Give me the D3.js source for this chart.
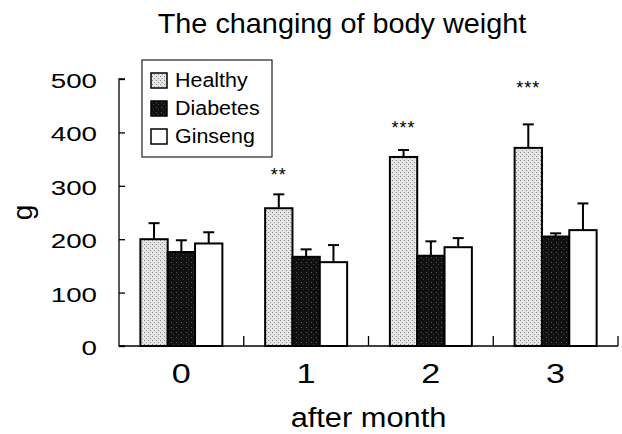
<!DOCTYPE html>
<html>
<head>
<meta charset="utf-8">
<script src="https://cdn.jsdelivr.net/npm/d3@7"></script>
<style>
  html, body { margin: 0; padding: 0; background: #fff; }
  svg { display: block; }
  text { font-family: "Liberation Sans", Arial, sans-serif; fill: #000; }
</style>
</head>
<body>
<svg id="chart" width="622" height="434"></svg>
<script>
// ---- data ----
const categories = ["0", "1", "2", "3"];
const seriesNames = ["Healthy", "Diabetes", "Ginseng"];
const healthyMean = [200, 258, 354, 371];
const healthySD   = [30, 26, 13, 44];
const diabetesMean = [176, 167, 169, 205];
const diabetesSD   = [22, 14, 27, 6];
const ginsengMean = [192, 157, 185, 217];
const ginsengSD   = [21, 32, 17, 50];
const yTicks = [0, 100, 200, 300, 400, 500];
const sigLabels = ["", "**", "***", "***"];
const sigLevel = [0, 324, 412, 487];   // height (g) where the significance marks sit
const titleText = "The changing of body weight";
const xTitle = "after month";
const yTitle = "g";

const means = [healthyMean, diabetesMean, ginsengMean];
const sds = [healthySD, diabetesSD, ginsengSD];

// ---- layout ----
const svg = d3.select("#chart");
const plotL = 119, plotR = 618, plotT = 79, plotB = 346;

const defs = svg.append("defs");
// light gray stipple for Healthy
const p1 = defs.append("pattern").attr("id", "patH").attr("patternUnits", "userSpaceOnUse")
  .attr("width", 4).attr("height", 4);
p1.append("rect").attr("width", 4).attr("height", 4).attr("fill", "#e2e2e2");
p1.append("rect").attr("x", 0).attr("y", 0).attr("width", 1).attr("height", 1).attr("fill", "#8a8a8a");
p1.append("rect").attr("x", 2).attr("y", 2).attr("width", 1).attr("height", 1).attr("fill", "#a0a0a0");
p1.append("rect").attr("x", 3).attr("y", 1).attr("width", 1).attr("height", 1).attr("fill", "#f4f4f4");
// dark stipple for Diabetes
const p2 = defs.append("pattern").attr("id", "patD").attr("patternUnits", "userSpaceOnUse")
  .attr("width", 5).attr("height", 5);
p2.append("rect").attr("width", 5).attr("height", 5).attr("fill", "#111");
p2.append("rect").attr("x", 1).attr("y", 2).attr("width", 1).attr("height", 1).attr("fill", "#555");
p2.append("rect").attr("x", 3).attr("y", 4).attr("width", 1).attr("height", 1).attr("fill", "#3a3a3a");
const fills = ["url(#patH)", "url(#patD)", "#fff"];

const y = d3.scaleLinear().domain([0, 500]).range([plotB, plotT]);
const x0 = d3.scaleBand().domain(categories).range([plotL, plotR]).paddingInner(0).paddingOuter(0);
const groupW = 82;
const x1 = d3.scaleBand().domain(seriesNames)
  .range([(x0.bandwidth() - groupW) / 2, (x0.bandwidth() + groupW) / 2]);

// helper: horizontally stretched text
function stretchedText(g, x, yPos, str, size, sx, anchor) {
  const t = g.append("g").attr("transform", `translate(${x},${yPos}) scale(${sx},1)`)
    .append("text").attr("font-size", size).attr("text-anchor", anchor || "middle").text(str);
  return t;
}

// ---- title ----
stretchedText(svg, 342, 33, titleText, 28, 1.03, "middle");

// ---- bars ----
const data = [];
categories.forEach((c, ci) => {
  seriesNames.forEach((s, si) => {
    data.push({ c, s, si, v: means[si][ci], sd: sds[si][ci] });
  });
});

const bars = svg.append("g");
bars.selectAll("rect").data(data).join("rect")
  .attr("x", d => x0(d.c) + x1(d.s))
  .attr("y", d => y(d.v))
  .attr("width", x1.bandwidth())
  .attr("height", d => y(0) - y(d.v))
  .attr("fill", d => fills[d.si])
  .attr("stroke", "#000").attr("stroke-width", 2);

// error bars
const err = svg.append("g").attr("stroke", "#000").attr("stroke-width", 2);
data.forEach(d => {
  const cx = x0(d.c) + x1(d.s) + x1.bandwidth() / 2;
  err.append("line").attr("x1", cx).attr("x2", cx).attr("y1", y(d.v)).attr("y2", y(d.v + d.sd));
  err.append("line").attr("x1", cx - 5.5).attr("x2", cx + 5.5).attr("y1", y(d.v + d.sd)).attr("y2", y(d.v + d.sd));
});

// significance marks
categories.forEach((c, ci) => {
  if (!sigLabels[ci]) return;
  const cx = x0(c) + x1(seriesNames[0]) + x1.bandwidth() / 2;
  svg.append("text").attr("x", cx).attr("y", y(sigLevel[ci]) + 8)
    .attr("text-anchor", "middle").attr("font-size", 18).attr("letter-spacing", 1)
    .text(sigLabels[ci]);
});

// ---- axes ----
const yAxis = d3.axisRight(y).tickValues(yTicks).tickSize(6).tickFormat("");
const yg = svg.append("g").attr("transform", `translate(${plotL},0)`).call(yAxis);
yg.select(".domain").attr("d", `M6,${plotT}H0V${plotB}H6`).attr("stroke-width", 1.3);
yg.selectAll(".tick line").attr("stroke-width", 1.3);

yTicks.forEach(t => {
  stretchedText(svg, 97, y(t) + 9, String(t), 21, 1.32, "end");
});

// x axis: baseline with category separator ticks pointing up
const xg = svg.append("g");
xg.append("line").attr("x1", plotL).attr("x2", plotR).attr("y1", plotB).attr("y2", plotB)
  .attr("stroke", "#000").attr("stroke-width", 1.3);
const boundaries = categories.slice(1).map(c => x0(c)).concat([x0(categories[categories.length - 1]) + x0.bandwidth()]);
xg.selectAll("line.sep").data(boundaries).join("line").attr("class", "sep")
  .attr("x1", d => d).attr("x2", d => d).attr("y1", plotB).attr("y2", plotB - 10)
  .attr("stroke", "#000").attr("stroke-width", 1.3);

categories.forEach(c => {
  stretchedText(svg, x0(c) + x0.bandwidth() / 2, 383, c, 28, 1.22, "middle");
});

// axis titles
stretchedText(svg, (plotL + plotR) / 2, 427, xTitle, 28, 1.1, "middle");
svg.append("text").attr("transform", "translate(32,212.5) rotate(-90)")
  .attr("text-anchor", "middle").attr("font-size", 28).text(yTitle);

// ---- legend ----
const lg = svg.append("g");
lg.append("rect").attr("x", 142).attr("y", 60).attr("width", 130).attr("height", 97)
  .attr("fill", "#fff").attr("stroke", "#222").attr("stroke-width", 1.2);
seriesNames.forEach((s, i) => {
  const ry = 73 + i * 28;
  lg.append("rect").attr("x", 151).attr("y", ry).attr("width", 16).attr("height", 15)
    .attr("fill", fills[i]).attr("stroke", "#000").attr("stroke-width", 1.5);
  stretchedText(lg, 175, ry + 14, s, 19.5, 1.1, "start");
});
</script>
</body>
</html>
